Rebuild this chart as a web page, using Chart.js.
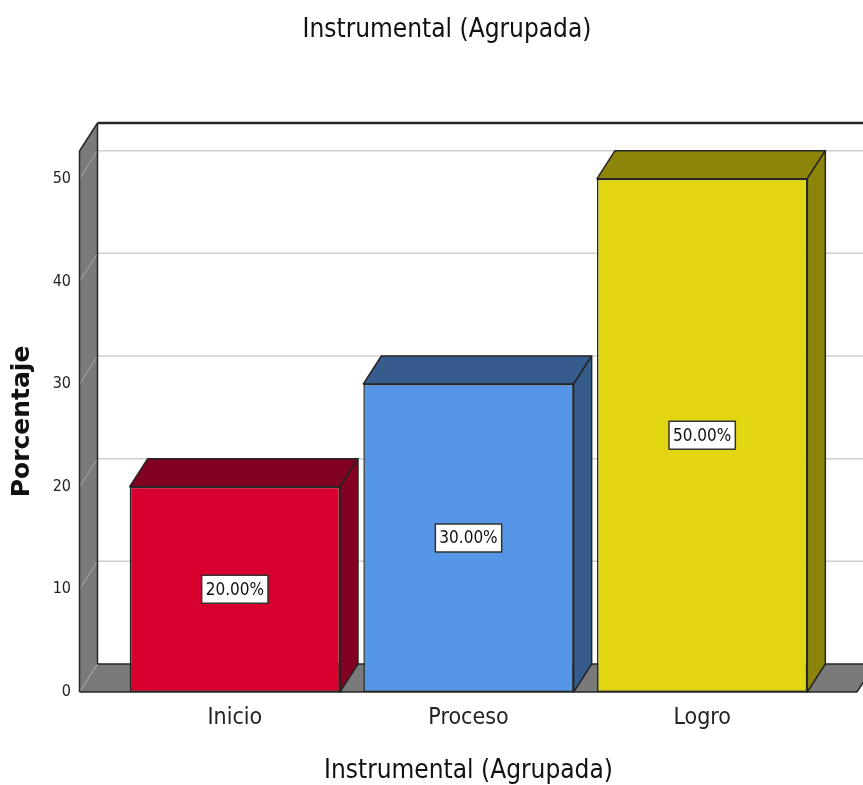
<!DOCTYPE html>
<html>
<head>
<meta charset="utf-8">
<script src="https://cdn.jsdelivr.net/npm/chart.js@4/dist/chart.umd.min.js"></script>
<style>
html,body{margin:0;padding:0;background:#fff;}
canvas{display:block;}
</style>
</head>
<body>
<canvas id="c" width="863" height="785"></canvas>
<script>
const categories = ['Inicio', 'Proceso', 'Logro'];
const percentages = [20, 30, 50];
const yTickValues = [0, 10, 20, 30, 40, 50];
const yAxisMax = 52.7;
const chartTitle = 'Instrumental (Agrupada)';
const xAxisTitle = 'Instrumental (Agrupada)';
const yAxisTitle = 'Porcentaje';
const frontColors = ['#D7002F', '#5596E6', '#E2D612'];
const sideColors = ['#820021', '#355C8C', '#8C8509'];

const DX = 18, DY = 28;
const WALL = '#7a7a7a';
const EDGE = '#262626';

function poly(ctx, pts, fill, stroke, lw) {
  ctx.beginPath();
  ctx.moveTo(pts[0][0], pts[0][1]);
  for (let i = 1; i < pts.length; i++) ctx.lineTo(pts[i][0], pts[i][1]);
  ctx.closePath();
  if (fill) { ctx.fillStyle = fill; ctx.fill(); }
  if (stroke) { ctx.strokeStyle = stroke; ctx.lineWidth = lw || 1.5; ctx.lineJoin = 'round'; ctx.stroke(); }
}
function line(ctx, x1, y1, x2, y2) {
  ctx.beginPath(); ctx.moveTo(x1, y1); ctx.lineTo(x2, y2); ctx.stroke();
}

const box3d = {
  id: 'box3d',
  beforeDraw(chart) {
    const ctx = chart.ctx;
    ctx.save();
    ctx.fillStyle = '#fff';
    ctx.fillRect(0, 0, chart.width, chart.height);
    ctx.restore();
  },
  beforeDatasetsDraw(chart) {
    const { ctx, chartArea: a, scales: { y } } = chart;
    const y0 = y.getPixelForValue(0);
    const yTop = a.top;
    const FL = a.left - 38.5, BL = FL + DX;
    const RF = a.right + 38, RB = RF + DX;
    const W = chart.width;
    ctx.save();
    ctx.strokeStyle = '#cfcfcf'; ctx.lineWidth = 1.5;
    yTickValues.forEach(v => {
      if (v === 0) return;
      const py = y.getPixelForValue(v) - DY;
      line(ctx, BL, py, W, py);
    });
    poly(ctx, [[FL, yTop], [BL, yTop - DY], [BL, y0 - DY], [FL, y0]], WALL);
    poly(ctx, [[FL, y0], [BL, y0 - DY], [RB, y0 - DY], [RF, y0]], WALL);
    ctx.strokeStyle = '#a9a9a9'; ctx.lineWidth = 1;
    yTickValues.forEach(v => {
      const py = y.getPixelForValue(v);
      line(ctx, FL, py, BL, py - DY);
    });
    ctx.strokeStyle = EDGE; ctx.lineWidth = 1.5;
    line(ctx, FL, yTop, FL, y0);
    line(ctx, FL, yTop, BL, yTop - DY);
    line(ctx, BL, yTop - DY, BL, y0 - DY);
    line(ctx, BL, y0 - DY, RB, y0 - DY);
    line(ctx, FL, y0, RF, y0);
    line(ctx, RF, y0, RB, y0 - DY);
    ctx.lineWidth = 2.5;
    line(ctx, BL, yTop - DY, W, yTop - DY);
    ctx.restore();
  },
  afterDatasetsDraw(chart) {
    const { ctx, scales: { y } } = chart;
    const meta = chart.getDatasetMeta(0);
    const y0 = y.getPixelForValue(0);
    ctx.save();
    meta.data.forEach((el, i) => {
      const x1 = el.x - el.width / 2, x2 = el.x + el.width / 2, yt = el.y;
      poly(ctx, [[x1, yt], [x1 + DX, yt - DY], [x2 + DX, yt - DY], [x2, yt]], sideColors[i], EDGE, 1.5);
      poly(ctx, [[x2, yt], [x2 + DX, yt - DY], [x2 + DX, y0 - DY], [x2, y0]], sideColors[i], EDGE, 1.5);
    });
    ctx.font = '17px "DejaVu Sans Condensed", "DejaVu Sans", sans-serif';
    ctx.textAlign = 'center';
    ctx.textBaseline = 'middle';
    meta.data.forEach((el, i) => {
      const v = percentages[i];
      const txt = v.toFixed(2) + '%';
      const cy = y.getPixelForValue(v / 2);
      const w = ctx.measureText(txt).width + 8;
      const h = 28;
      ctx.fillStyle = '#fff';
      ctx.fillRect(el.x - w / 2, cy - h / 2, w, h);
      ctx.strokeStyle = '#333';
      ctx.lineWidth = 1.5;
      ctx.strokeRect(el.x - w / 2, cy - h / 2, w, h);
      ctx.fillStyle = '#111';
      ctx.fillText(txt, el.x, cy + 1);
    });
    ctx.restore();
  },
  afterDraw(chart) {
    const ctx = chart.ctx;
    ctx.save();
    ctx.font = '26px "DejaVu Sans Condensed", "DejaVu Sans", sans-serif';
    ctx.fillStyle = '#111';
    ctx.textAlign = 'center';
    ctx.textBaseline = 'alphabetic';
    ctx.fillText(chartTitle, 447, 37);
    ctx.restore();
  }
};

new Chart(document.getElementById('c'), {
  type: 'bar',
  data: {
    labels: categories,
    datasets: [{
      data: percentages,
      backgroundColor: frontColors,
      borderColor: EDGE,
      borderWidth: 1.5,
      borderSkipped: false,
      barPercentage: 0.9,
      categoryPercentage: 1.0
    }]
  },
  options: {
    responsive: false,
    animation: false,
    devicePixelRatio: 1,
    layout: { padding: { top: 151, right: 44, left: 0, bottom: 0 } },
    plugins: {
      legend: { display: false },
      tooltip: { enabled: false },
      title: { display: false }
    },
    scales: {
      x: {
        offset: true,
        grid: { display: false, drawTicks: false },
        border: { display: false },
        ticks: {
          padding: 12,
          color: '#222',
          font: { family: '"DejaVu Sans Condensed", "DejaVu Sans"', size: 23 }
        },
        title: {
          display: true,
          text: xAxisTitle,
          color: '#111',
          font: { family: '"DejaVu Sans Condensed", "DejaVu Sans"', size: 26, lineHeight: 1 },
          padding: { top: 0, bottom: 1 }
        },
        afterFit(scale) { scale.height = 93; }
      },
      y: {
        min: 0,
        max: yAxisMax,
        grid: { display: false, drawTicks: false },
        border: { display: false },
        afterBuildTicks(scale) { scale.ticks = yTickValues.map(v => ({ value: v })); },
        ticks: {
          padding: 47,
          color: '#222',
          font: { family: '"DejaVu Sans Condensed", "DejaVu Sans"', size: 16 }
        },
        title: {
          display: true,
          text: yAxisTitle,
          color: '#111',
          font: { family: '"DejaVu Sans"', size: 25, weight: 'bold', lineHeight: 1.2 },
          padding: { top: 7, bottom: 0 }
        },
        afterFit(scale) { scale.width = 118; }
      }
    }
  },
  plugins: [box3d]
});
</script>
</body>
</html>
